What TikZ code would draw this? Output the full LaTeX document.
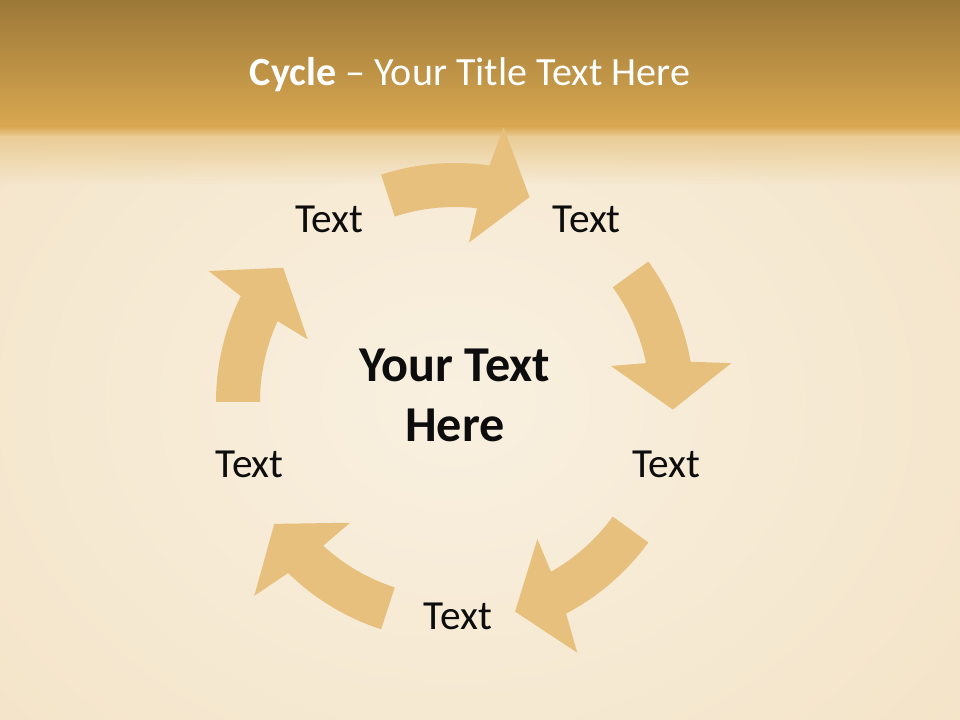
\documentclass[tikz,border=0pt]{standalone}
\usepackage{fontspec}
\setmainfont{Carlito}
\usetikzlibrary{fadings}

\definecolor{hdrtop}{HTML}{9C7838}
\definecolor{hdrbot}{HTML}{D9A851}
\definecolor{hdrfade}{HTML}{EACD97}
\definecolor{paper}{HTML}{F3E3C6}
\definecolor{paperlight}{HTML}{F9F0E0}
\definecolor{arrowtan}{HTML}{E7C07D}

\tikzfading[name=fadedown, top color=transparent!0, bottom color=transparent!100]

\begin{document}
\begin{tikzpicture}[x=0.025cm,y=0.025cm,
		arrowpart/.style={fill=arrowtan,draw=none},
		txt/.style={font=\fontsize{29.4}{35}\selectfont,text=black!95},
		hub/.style={font=\fontsize{35.7}{42.7}\selectfont\bfseries,align=center,text=black!95}]
		
		\useasboundingbox (0,0) rectangle (960,720);
		
		%background
		\fill[paper] (0,0) rectangle (960,720);
		\shade[inner color=paperlight, outer color=paper] (-245,-242) rectangle (1155,878);
		
		%header
		\shade[top color=hdrtop, bottom color=hdrbot] (0,593) rectangle (960,720);
		\shade[top color=hdrbot, bottom color=hdrfade] (0,583) rectangle (960,593.5);
		\fill[hdrfade, path fading=fadedown] (0,535) rectangle (960,583.5);
		
		\node[font=\fontsize{28.5}{33}\selectfont, text=white] (title) at (470,645) {\textbf{Cycle} – Your Title Text Here};
		
		%arrows
		\begin{scope}[shift={(455,318)}]
		\foreach \t in {70,-2,-74,-146,-218}
		\fill[arrowpart] (\t+38:239) arc[start angle=\t+38, end angle=\t+11.7, radius=239] -- (\t+10:279) -- (\t:218) -- (\t+15:160) -- (\t+13.5:195) arc[start angle=\t+13.5, end angle=\t+38, radius=195] -- cycle;
		\end{scope}
		
		%texts
		\begin{scope}[shift={(458,323)}]
		\foreach[count=\i] \t in {70,-2,-74,-146,-218}
		\node[txt] (lbl\i) at (\t-16:219) {Text};
		\end{scope}
		
		%middle
		\node[hub] (hub) at (455,325) {Your Text\\Here};
		
	\end{tikzpicture}
\end{document}
